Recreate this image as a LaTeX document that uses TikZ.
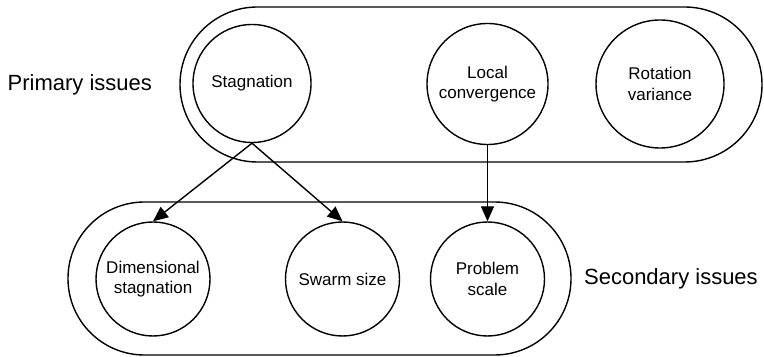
\documentclass[tikz,border=0pt]{standalone}
\usepackage{fontspec}
\setmainfont{Liberation Sans}
\usetikzlibrary{positioning,arrows.meta}

\begin{document}
\begin{tikzpicture}
[x=0.5pt, y=-0.5pt,
issuenode/.style={circle, draw, line width=0.7pt, inner sep=0pt, align=center, font=\fontsize{8.5}{10.2}\selectfont},
groupnode/.style={rectangle, draw, line width=0.7pt, inner sep=0pt},
labelnode/.style={inner sep=0pt, font=\fontsize{11}{13}\selectfont},
issuearrow/.style={-{Triangle[length=7.5pt,width=6.5pt]}, line width=0.7pt},
]
\useasboundingbox (0,0) rectangle (764,357);

\node[groupnode, minimum width=291pt, minimum height=77.5pt, rounded corners=38.7pt] (primary) at (471,84.5) {};
\node[groupnode, minimum width=251.5pt, minimum height=76.5pt, rounded corners=38.2pt] (secondary) at (319.5,278.5) {};

\node[labelnode] (primlabel) [left=13.5pt of primary] {Primary issues};
\node[labelnode] (seclabel) [right=6pt of secondary] {Secondary issues};

\node[issuenode, minimum size=59pt] (stag) at (252,83.5) {Stagnation};
\node[issuenode, minimum size=60.5pt] (loc) at (487.5,84) {Local\\convergence};
\node[issuenode, minimum size=64pt] (rot) at (660,84) {Rotation\\variance};

\node[issuenode, minimum size=57pt] (dim) at (153,279) {Dimensional\\stagnation};
\node[issuenode, minimum size=57pt] (swarm) at (342.5,279) {Swarm size};
\node[issuenode, minimum size=57pt] (prob) at (487.5,279) {Problem\\scale};

\draw[issuearrow] (stag.south) -- (dim.north);
\draw[issuearrow] (stag.south) -- (swarm.north);
\draw[issuearrow] (loc.south) -- (prob.north);
\end{tikzpicture}
\end{document}
